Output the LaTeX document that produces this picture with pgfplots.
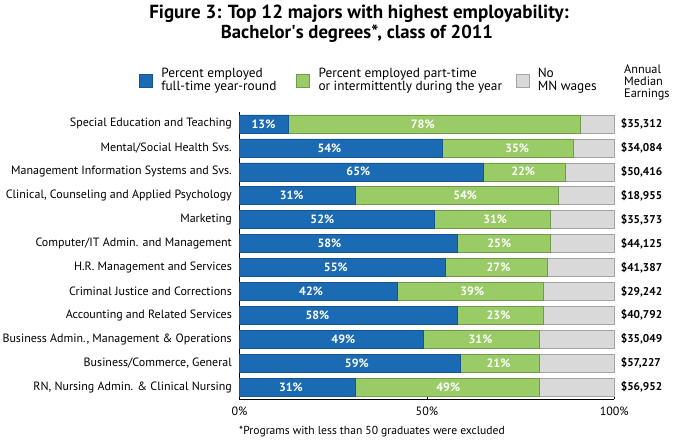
\documentclass[border=0pt]{standalone}
\usepackage{fontspec}
\setmainfont{PT Sans}
\usepackage{pgfplots}
\usepackage{pgfplotstable}
\pgfplotsset{compat=1.18}
\definecolor{cblue}{RGB}{27,106,180}
\definecolor{cgreen}{RGB}{153,204,102}
\definecolor{cgrey}{RGB}{217,217,217}

\pgfplotstableread{
idx ft pt no
0 13 78 9
1 54 35 11
2 65 22 13
3 31 54 15
4 52 31 17
5 58 25 17
6 55 27 18
7 42 39 19
8 58 23 19
9 49 31 20
10 59 21 20
11 31 49 20
}\data

\tikzset{lbl/.style={font=\bfseries\fontsize{12}{13}\selectfont, text=white, inner sep=0pt},
  earn/.style={font=\bfseries\fontsize{11.3}{13}\selectfont, anchor=west, inner sep=0pt, xshift=6.4pt}}

\begin{document}
\begin{tikzpicture}
\path[use as bounding box] (-239.5pt,-47pt) rectangle (434.5pt,399pt);
\begin{axis}[
  scale only axis, width=374.8pt, height=287pt,
  xbar stacked, bar width=18pt,
  xmin=0, xmax=100, ymin=-0.5, ymax=11.5, y dir=reverse,
  axis x line*=bottom, axis y line*=left,
  axis line style={black, line width=0.7pt},
  xtick={0,50,100}, xticklabels={0\%,50\%,100\%},
  xtick pos=bottom, tick align=inside, major tick length=4pt,
  xtick style={black, line width=0.6pt},
  ytick={0,...,11}, ytick style={draw=none},
  yticklabels={{Special Education and Teaching},{Mental/Social Health Svs.},{Management Information Systems and Svs.},{Clinical, Counseling and Applied Psychology},{Marketing},{Computer/IT Admin. and Management},{H.R. Management and Services},{Criminal Justice and Corrections},{Accounting and Related Services},{Business Admin., Management \& Operations},{Business/Commerce, General},{RN, Nursing Admin. \& Clinical Nursing}},
  yticklabel style={font=\fontsize{12}{14}\selectfont, inner sep=0pt, xshift=-7.5pt},
  xticklabel style={font=\fontsize{12}{14}\selectfont, inner sep=0pt, yshift=-8pt},
  legend columns=3,
  legend style={at={(rel axis cs:-0.268,1.12)}, anchor=west, draw=none, fill=none, inner sep=0pt, outer sep=0pt,
     nodes={inner sep=0pt, font=\fontsize{13.3}{12.6}\selectfont}, column sep=0pt},
  legend image code/.code={\draw[#1, line width=0.5pt] (0pt,-9.5pt) rectangle (13pt,3.5pt); \path[draw=none,fill=none] (0pt,0pt) rectangle (22pt,0pt);},
  clip=false,
]
\addplot[fill=cblue, draw=cblue!80!black, line width=0.5pt] table[x=ft, y=idx] {\data};
\addlegendentry{\makebox[135pt][l]{\begin{tabular}{@{}l@{}}Percent employed\\full-time year-round\end{tabular}}}
\addplot[fill=cgreen, draw=cgreen!75!black, line width=0.5pt] table[x=pt, y=idx] {\data};
\addlegendentry{\makebox[197pt][l]{\begin{tabular}{@{}l@{}}Percent employed part-time\\or intermittently during the year\end{tabular}}}
\addplot[fill=cgrey, draw=cgrey!75!black, line width=0.5pt] table[x=no, y=idx] {\data};
\addlegendentry{\begin{tabular}{@{}l@{}}No\\MN wages\end{tabular}}

\coordinate (a0) at (axis cs:6.4,0);   \coordinate (b0) at (axis cs:48.9,0);
\coordinate (a1) at (axis cs:24.0,1);  \coordinate (b1) at (axis cs:74.1,1);
\coordinate (a2) at (axis cs:31.7,2);  \coordinate (b2) at (axis cs:75.7,2);
\coordinate (a3) at (axis cs:13.9,3);  \coordinate (b3) at (axis cs:60.2,3);
\coordinate (a4) at (axis cs:22.1,4);  \coordinate (b4) at (axis cs:68.2,4);
\coordinate (a5) at (axis cs:24.0,5);  \coordinate (b5) at (axis cs:69.3,5);
\coordinate (a6) at (axis cs:25.7,6);  \coordinate (b6) at (axis cs:69.1,6);
\coordinate (a7) at (axis cs:19.1,7);  \coordinate (b7) at (axis cs:62.1,7);
\coordinate (a8) at (axis cs:20.8,8);  \coordinate (b8) at (axis cs:69.1,8);
\coordinate (a9) at (axis cs:27.7,9);  \coordinate (b9) at (axis cs:64.3,9);
\coordinate (a10) at (axis cs:31.3,10); \coordinate (b10) at (axis cs:69.1,10);
\coordinate (a11) at (axis cs:13.7,11); \coordinate (b11) at (axis cs:55.7,11);

\node[earn] at (axis cs:100,0) {\$35,312};
\node[earn] at (axis cs:100,1) {\$34,084};
\node[earn] at (axis cs:100,2) {\$50,416};
\node[earn] at (axis cs:100,3) {\$18,955};
\node[earn] at (axis cs:100,4) {\$35,373};
\node[earn] at (axis cs:100,5) {\$44,125};
\node[earn] at (axis cs:100,6) {\$41,387};
\node[earn] at (axis cs:100,7) {\$29,242};
\node[earn] at (axis cs:100,8) {\$40,792};
\node[earn] at (axis cs:100,9) {\$35,049};
\node[earn] at (axis cs:100,10) {\$57,227};
\node[earn] at (axis cs:100,11) {\$56,952};
\end{axis}
\node[lbl] at (a0) {13\%};  \node[lbl] at (b0) {78\%};
\node[lbl] at (a1) {54\%};  \node[lbl] at (b1) {35\%};
\node[lbl] at (a2) {65\%};  \node[lbl] at (b2) {22\%};
\node[lbl] at (a3) {31\%};  \node[lbl] at (b3) {54\%};
\node[lbl] at (a4) {52\%};  \node[lbl] at (b4) {31\%};
\node[lbl] at (a5) {58\%};  \node[lbl] at (b5) {25\%};
\node[lbl] at (a6) {55\%};  \node[lbl] at (b6) {27\%};
\node[lbl] at (a7) {42\%};  \node[lbl] at (b7) {39\%};
\node[lbl] at (a8) {58\%};  \node[lbl] at (b8) {23\%};
\node[lbl] at (a9) {49\%};  \node[lbl] at (b9) {31\%};
\node[lbl] at (a10) {59\%}; \node[lbl] at (b10) {21\%};
\node[lbl] at (a11) {31\%}; \node[lbl] at (b11) {49\%};
\node[anchor=base, inner sep=0pt, font=\bfseries\fontsize{19}{20}\selectfont] at (119.5pt,380pt) {Figure 3: Top 12 majors with highest employability:};
\node[anchor=base, inner sep=0pt, font=\bfseries\fontsize{18.7}{20}\selectfont] at (117.5pt,360pt) {Bachelor\textquotesingle s degrees*, class of 2011};
\node[anchor=north west, align=left, inner sep=0pt, font=\fontsize{12.3}{11.8}\selectfont] at (384.5pt,334pt) {Annual\\Median\\Earnings};
\node[anchor=base west, inner sep=0pt, font=\fontsize{11.6}{13}\selectfont] at (-0.5pt,-36pt) {*Programs with less than 50 graduates were excluded};
\end{tikzpicture}
\end{document}
